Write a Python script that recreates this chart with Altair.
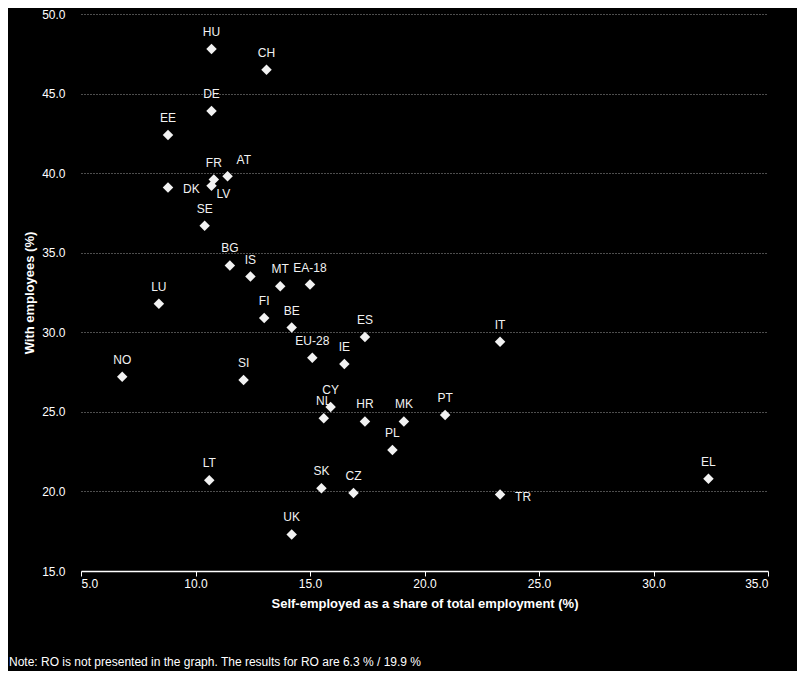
import altair as alt
import pandas as pd

codes = ["HU", "CH", "DE", "EE", "FR", "AT", "LV", "DK", "SE", "BG", "IS", "MT",
         "EA-18", "LU", "FI", "BE", "ES", "IT", "EU-28", "IE", "NO", "SI", "CY",
         "NL", "HR", "MK", "PT", "PL", "LT", "SK", "CZ", "TR", "EL", "UK"]
self_employed = [10.7, 13.1, 10.7, 8.8, 10.8, 11.4, 10.7, 8.8, 10.4, 11.5, 12.4, 13.7,
                 15.0, 8.4, 13.0, 14.2, 17.4, 23.3, 15.1, 16.5, 6.8, 12.1, 15.9,
                 15.6, 17.4, 19.1, 20.9, 18.6, 10.6, 15.5, 16.9, 23.3, 32.4, 14.2]
with_employees = [47.8, 46.5, 43.9, 42.4, 39.6, 39.8, 39.2, 39.1, 36.7, 34.2, 33.5, 32.9,
                  33.0, 31.8, 30.9, 30.3, 29.7, 29.4, 28.4, 28.0, 27.2, 27.0, 25.3,
                  24.6, 24.4, 24.4, 24.8, 22.6, 20.7, 20.2, 19.9, 19.8, 20.8, 17.3]

labels_right = ["DK", "TR"]
labels_lower_right = ["LV"]
labels_upper_right = ["AT"]
special = labels_right + labels_lower_right + labels_upper_right

note = "Note: RO is not presented in the graph. The results for RO are 6.3 % / 19.9 %"

df = pd.DataFrame({"code": codes, "se": self_employed, "we": with_employees})

FONT = "Liberation Sans"

x = alt.X("se:Q", title="Self-employed as a share of total employment (%)",
          scale=alt.Scale(domain=[5, 35], nice=False, zero=False),
          axis=alt.Axis(values=[5, 10, 15, 20, 25, 30, 35], format=".1f", grid=False,
                        domainColor="white", domainWidth=1.5, tickColor="white",
                        tickSize=5, labelPadding=2, titlePadding=8,
                        labelColor="white", titleColor="white", labelFontSize=12,
                        titleFontSize=13, titleFontWeight="bold", labelFont=FONT,
                        titleFont=FONT))
y = alt.Y("we:Q", title="With employees (%)",
          scale=alt.Scale(domain=[15, 50], nice=False, zero=False),
          axis=alt.Axis(values=[15, 20, 25, 30, 35, 40, 45, 50], format=".1f",
                        domain=False, ticks=False, tickSize=0, labelPadding=16,
                        grid=True, gridColor="#9a9a9a", gridDash=[1, 2], gridWidth=1,
                        titlePadding=5, labelColor="white", titleColor="white",
                        labelFontSize=12, titleFontSize=13, titleFontWeight="bold",
                        labelFont=FONT, titleFont=FONT))

base = alt.Chart(df).encode(x=x, y=y)

points = base.mark_point(shape="diamond", filled=True, color="#f2f2f2", size=110, opacity=1)

txt = dict(color="#f2f2f2", fontSize=12, font=FONT)
lab_default = base.transform_filter(
    ~alt.FieldOneOfPredicate(field="code", oneOf=special)
).mark_text(dy=-17, baseline="middle", align="center", **txt).encode(text="code:N")
lab_right = base.transform_filter(
    alt.FieldOneOfPredicate(field="code", oneOf=labels_right)
).mark_text(dx=15, dy=2, baseline="middle", align="left", **txt).encode(text="code:N")
lab_lr = base.transform_filter(
    alt.FieldOneOfPredicate(field="code", oneOf=labels_lower_right)
).mark_text(dx=5, dy=8, baseline="middle", align="left", **txt).encode(text="code:N")
lab_ur = base.transform_filter(
    alt.FieldOneOfPredicate(field="code", oneOf=labels_upper_right)
).mark_text(dx=9, dy=-16, baseline="middle", align="left", **txt).encode(text="code:N")

chart = alt.layer(points, lab_default, lab_right, lab_lr, lab_ur).properties(
    width=687, height=557,
    title=alt.TitleParams(text=note, orient="bottom", anchor="start", frame="group",
                          dx=-72, offset=47, color="white", fontSize=12,
                          fontWeight="normal", font=FONT),
    autosize=alt.AutoSizeParams(type="none"),
    padding={"left": 73, "top": 6, "right": 29, "bottom": 100},
    background="black",
).configure_view(stroke=None)

chart.save("out.html", embed_options={"renderer": "svg", "actions": False})
